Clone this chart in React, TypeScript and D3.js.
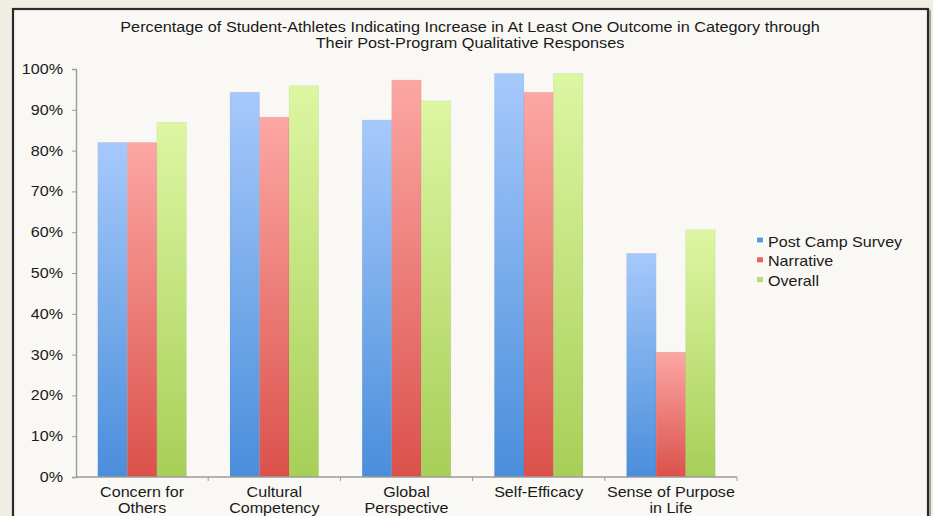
import React, { useRef, useEffect } from 'react';
import * as d3 from 'd3';

// category labels (two lines each) and series values in percent
const categories = ['Concern for Others', 'Cultural Competency', 'Global Perspective', 'Self-Efficacy', 'Sense of Purpose in Life'];
const categoryLines = [['Concern for', 'Others'], ['Cultural', 'Competency'], ['Global', 'Perspective'], ['Self-Efficacy'], ['Sense of Purpose', 'in Life']];
const seriesNames = ['Post Camp Survey', 'Narrative', 'Overall'];
const postCampSurvey = [82, 94.3, 87.5, 98.9, 54.8];
const narrative = [82, 88.2, 97.3, 94.3, 30.6];
const overall = [86.9, 95.9, 92.2, 98.9, 60.6];
const yTicks = [0, 10, 20, 30, 40, 50, 60, 70, 80, 90, 100];
const titleLines = [
  'Percentage of Student-Athletes Indicating Increase in At Least One Outcome in Category through',
  'Their Post-Program Qualitative Responses',
];

const seriesValues = [postCampSurvey, narrative, overall];
const gradients = [
  { top: '#a6c9fb', bottom: '#4a8edb', key: '#5c9be6' },
  { top: '#fca7a4', bottom: '#db514b', key: '#e8625d' },
  { top: '#ddf6a2', bottom: '#a7cf58', key: '#b5dc6c' },
];

const W = 933;
const H = 516;
const FONT = '"Liberation Sans", Arial, Helvetica, sans-serif';
const STRETCH = 1.15; // the source text is rendered a bit wide

const App: React.FC = () => {
  const svgRef = useRef<SVGSVGElement>(null);

  useEffect(() => {
    if (!svgRef.current) return;
    const svg = d3.select(svgRef.current);
    svg.selectAll('*').remove();

    const label = (parent: d3.Selection<any, any, any, any>, tx: number, ty: number, txt: string, anchor: string, size = 14, sx = STRETCH) =>
      parent.append('text')
        .attr('transform', `translate(${tx},${ty}) scale(${sx},1)`)
        .attr('text-anchor', anchor)
        .style('font-family', FONT)
        .style('font-size', `${size}px`)
        .style('fill', '#1a1a1a')
        .text(txt);

    // gradients per series (light at top, dark at bottom of each bar)
    const defs = svg.append('defs');
    gradients.forEach((g, i) => {
      const lg = defs.append('linearGradient')
        .attr('id', `grad${i}`)
        .attr('x1', 0).attr('y1', 0).attr('x2', 0).attr('y2', 1);
      lg.append('stop').attr('offset', '0%').attr('stop-color', g.top);
      lg.append('stop').attr('offset', '100%').attr('stop-color', g.bottom);
    });

    // page background and framed panel
    svg.append('rect').attr('width', W).attr('height', H).attr('fill', '#f0eee2');
    svg.append('rect')
      .attr('x', 13).attr('y', 9)
      .attr('width', 915).attr('height', H + 10)
      .attr('fill', '#f9f8f4')
      .attr('stroke', '#2a2a2a')
      .attr('stroke-width', 2.2);
    svg.append('line')
      .attr('x1', 930).attr('x2', 930).attr('y1', 10).attr('y2', H)
      .attr('stroke', '#777').attr('stroke-width', 1.2);

    // title
    const title = svg.append('g');
    titleLines.forEach((t, i) => label(title, 470, 32 + i * 15.5, t, 'middle', 14, 1.16));

    const x = d3.scaleBand<string>()
      .domain(categories)
      .range([76, 737])
      .paddingInner(0.33)
      .paddingOuter(0.165);

    const xs = d3.scaleBand<string>()
      .domain(seriesNames)
      .range([0, x.bandwidth()]);

    const y = d3.scaleLinear().domain([0, 100]).range([477, 69]);

    // bars
    seriesNames.forEach((s, si) => {
      svg.append('g').selectAll('rect')
        .data(seriesValues[si])
        .enter().append('rect')
        .attr('x', (_, i) => (x(categories[i]) || 0) + (xs(s) || 0))
        .attr('y', d => y(d))
        .attr('width', xs.bandwidth())
        .attr('height', d => y(0) - y(d))
        .attr('fill', `url(#grad${si})`)
        .attr('stroke', 'rgba(0,0,0,0.06)')
        .attr('stroke-width', 0.8);
    });

    // y axis
    const yAxis = svg.append('g')
      .attr('transform', 'translate(76,0)')
      .call(d3.axisLeft(y).tickValues(yTicks).tickSize(4).tickFormat(() => ''));
    yAxis.select('.domain').attr('stroke', '#9c9c9c').attr('stroke-width', 1.4);
    yAxis.selectAll('.tick line').attr('stroke', '#9c9c9c');
    const yLabels = svg.append('g');
    yTicks.forEach(t => label(yLabels, 63, y(t) + 5, `${t}%`, 'end'));

    // x axis baseline + boundary ticks
    const step = x.step();
    const boundaries = categories.map(c => (x(c) || 0) + x.bandwidth() + step * x.paddingInner() / 2);
    svg.append('line')
      .attr('x1', 76).attr('x2', 737)
      .attr('y1', y(0)).attr('y2', y(0))
      .attr('stroke', '#9c9c9c').attr('stroke-width', 1.4);
    svg.append('g').selectAll('line')
      .data(boundaries)
      .enter().append('line')
      .attr('x1', d => d).attr('x2', d => d)
      .attr('y1', y(0)).attr('y2', y(0) + 4)
      .attr('stroke', '#9c9c9c');

    // category labels
    const xLabels = svg.append('g');
    categories.forEach((c, i) => {
      categoryLines[i].forEach((line, li) =>
        label(xLabels, (x(c) || 0) + x.bandwidth() / 2, 497 + li * 16, line, 'middle'));
    });

    // legend
    const legend = svg.append('g').attr('transform', 'translate(757,0)');
    seriesNames.forEach((s, i) => {
      const ly = 246.5 + i * 19.8;
      legend.append('rect')
        .attr('x', 0).attr('y', ly - 9)
        .attr('width', 6).attr('height', 5)
        .attr('fill', gradients[i].key);
      label(legend, 11, ly, s, 'start');
    });
  }, []);

  return (
    <div style={{ width: W, height: H }}>
      <style>{'body{margin:0}'}</style>
      <svg ref={svgRef} width={W} height={H} style={{ display: 'block' }}></svg>
    </div>
  );
};

export default App;
